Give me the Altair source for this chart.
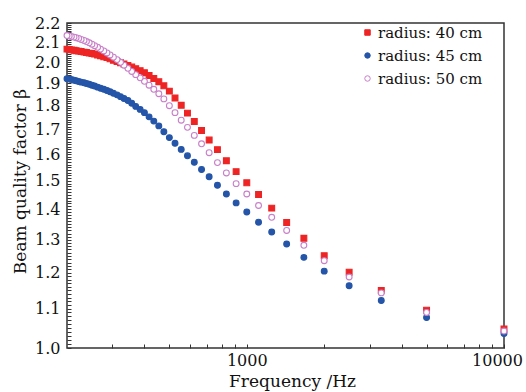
import altair as alt
import pandas as pd

freq = [10000, 5000, 3333, 2500, 2000, 1667, 1429, 1250, 1111, 1000,
        909, 833, 769, 714, 667, 625, 588, 556, 526, 500,
        476, 455, 435, 417, 400, 385, 370, 357, 345, 333,
        323, 313, 303, 294, 286, 278, 270, 263, 256, 250,
        244, 238, 233, 227, 222, 217, 213, 208, 204, 200]

beta_40 = [1.047, 1.096, 1.150, 1.202, 1.251, 1.305, 1.356, 1.404, 1.451, 1.493,
           1.534, 1.575, 1.618, 1.656, 1.695, 1.732, 1.768, 1.802, 1.834, 1.865,
           1.889, 1.908, 1.923, 1.937, 1.950, 1.960, 1.969, 1.977, 1.985, 1.992,
           1.998, 2.004, 2.010, 2.017, 2.023, 2.027, 2.032, 2.036, 2.040, 2.043,
           2.045, 2.048, 2.050, 2.053, 2.055, 2.057, 2.059, 2.061, 2.063, 2.065]

beta_45 = [1.036, 1.077, 1.122, 1.163, 1.205, 1.246, 1.287, 1.325, 1.357, 1.391,
           1.422, 1.453, 1.484, 1.515, 1.542, 1.569, 1.594, 1.619, 1.643, 1.666,
           1.690, 1.714, 1.734, 1.752, 1.770, 1.784, 1.797, 1.811, 1.823, 1.832,
           1.840, 1.848, 1.855, 1.862, 1.868, 1.873, 1.878, 1.883, 1.888, 1.892,
           1.896, 1.900, 1.903, 1.906, 1.909, 1.912, 1.915, 1.918, 1.920, 1.922]

beta_50 = [1.042, 1.090, 1.143, 1.188, 1.236, 1.283, 1.330, 1.373, 1.413, 1.453,
           1.490, 1.529, 1.568, 1.606, 1.641, 1.675, 1.708, 1.738, 1.770, 1.800,
           1.830, 1.853, 1.873, 1.892, 1.910, 1.926, 1.941, 1.956, 1.971, 1.986,
           2.000, 2.013, 2.025, 2.036, 2.046, 2.056, 2.065, 2.074, 2.082, 2.090,
           2.097, 2.103, 2.109, 2.114, 2.119, 2.123, 2.126, 2.129, 2.132, 2.134]

labels = ["radius: 40 cm", "radius: 45 cm", "radius: 50 cm"]
stroke_colors = ["#ee2424", "#2455a8", "#c880c8"]
fill_colors = ["#ee2424", "#2455a8", "#ffffff"]
shapes = ["square", "circle", "circle"]

x_tick_values = [300, 400, 500, 600, 700, 800, 900, 1000,
                 2000, 3000, 4000, 5000, 6000, 7000, 8000, 9000, 10000]
y_tick_values = [round(1.0 + i * 0.01, 2) for i in range(121)]

rows = []
for lab, series in zip(labels, [beta_40, beta_45, beta_50]):
    for f, b in zip(freq, series):
        rows.append({"series": lab, "freq": f, "beta": b})
df = pd.DataFrame(rows)

FONT = "DejaVu Serif"

legend = alt.Legend(
    title=None, orient="none", legendX=293, legendY=2,
    padding=0, symbolOffset=0, labelOffset=3, rowPadding=7,
    symbolSize=30, symbolStrokeWidth=1,
    labelFont=FONT, labelFontSize=15, labelColor="#111",
)

chart = alt.Chart(df).mark_point(
    filled=False, fillOpacity=1, opacity=1, strokeWidth=1.1, size=34
).encode(
    x=alt.X("freq:Q",
            scale=alt.Scale(type="log", domain=[200, 10000], nice=False),
            axis=alt.Axis(
                values=x_tick_values,
                labelExpr="(datum.value == 1000 || datum.value == 10000) ? format(datum.value, 'd') : ''",
                labelOverlap=False, labelFlush=False,
                labelOffset={"condition": {"test": "datum.value == 10000", "value": -7}, "value": 0},
                offset=-4, tickSize=4, tickColor="#333", tickWidth=1,
                domain=False, grid=False, labelPadding=4,
                labelFont=FONT, labelFontSize=16, labelColor="#111",
                title="Frequency /Hz", titleFont=FONT, titleFontSize=17,
                titleFontWeight="normal", titleColor="#111",
                titleX=225, titleY=42, titleBaseline="alphabetic",
            )),
    y=alt.Y("beta:Q",
            scale=alt.Scale(type="log", domain=[1.0, 2.2], nice=False, zero=False),
            axis=alt.Axis(
                values=y_tick_values,
                labelExpr="(abs(datum.value * 10 - round(datum.value * 10)) < 0.001) ? format(datum.value, '.1f') : ''",
                labelOverlap=False, labelFlush=False,
                offset=-4, tickSize=4, tickColor="#333", tickWidth=1,
                domain=False, grid=False, labelPadding=7,
                labelFont=FONT, labelFontSize=16, labelColor="#111",
                title="Beam quality factor β", titleFont=FONT, titleFontSize=17,
                titleFontWeight="normal", titleColor="#111",
                titleX=-46, titleY=158, titleBaseline="alphabetic", titleAngle=270,
            )),
    shape=alt.Shape("series:N", scale=alt.Scale(domain=labels, range=shapes), legend=legend),
    stroke=alt.Stroke("series:N", scale=alt.Scale(domain=labels, range=stroke_colors), legend=legend),
    fill=alt.Fill("series:N", scale=alt.Scale(domain=labels, range=fill_colors), legend=legend),
).properties(
    width=437, height=325,
    autosize=alt.AutoSizeParams(type="none"),
    padding={"left": 67, "top": 23, "right": 22, "bottom": 44},
).configure_view(
    stroke="#333", strokeWidth=1.5
)

chart.save("out.html", embed_options={"renderer": "svg", "actions": False})
